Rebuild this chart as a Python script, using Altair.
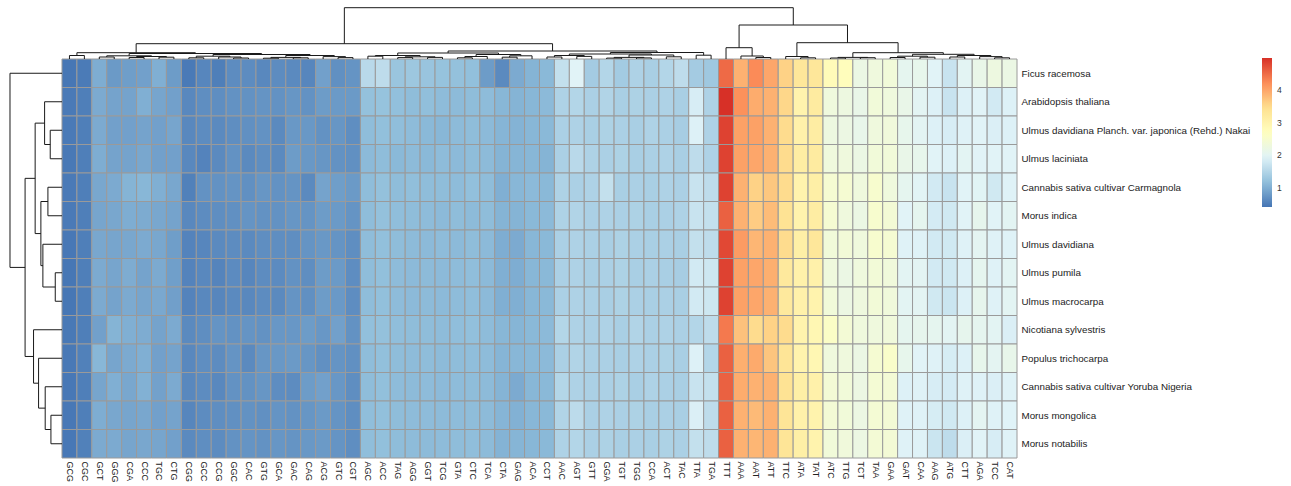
import json
import altair as alt
import pandas as pd

codons = ["GCG","CGC","GCT","GGG","CGA","CCC","TGC","CTG","CGG","GCC","CCG","GGC","CAC","GTG","GCA","GAC","CAG","ACG","GTC","CGT",
          "AGC","ACC","TAG","AGG","GGT","TCG","GTA","CTC","TCA","CTA","GAG","ACA","CCT",
          "AAC","AGT","GTT","GGA","TGT","TGG","CCA","ACT","TAC","TTA","TGA",
          "TTT","AAA","AAT","ATT","TTC","ATA","TAT","ATC","TTG","TCT","TAA","GAA","GAT","CAA","AAG","ATG","CTT","AGA","TCC","CAT"]

species = ["Ficus racemosa", "Arabidopsis thaliana", "Ulmus davidiana Planch. var. japonica (Rehd.) Nakai",
           "Ulmus laciniata", "Cannabis sativa cultivar Carmagnola", "Morus indica", "Ulmus davidiana",
           "Ulmus pumila", "Ulmus macrocarpa", "Nicotiana sylvestris", "Populus trichocarpa",
           "Cannabis sativa cultivar Yoruba Nigeria", "Morus mongolica", "Morus notabilis"]

ficus = [0.42,0.46,0.98,0.78,0.82,0.85,1.00,0.80,0.45,0.58,0.50,0.64,0.64,0.60,0.64,0.62,0.58,0.85,0.68,0.72,
         1.55,1.60,1.25,1.28,1.24,1.22,1.20,1.18,0.80,0.62,0.95,1.05,1.10,
         1.65,1.95,1.35,1.50,1.34,1.45,1.40,1.50,1.60,1.35,1.30,
         4.52,3.90,4.25,4.00,3.60,3.30,3.30,2.80,2.75,2.20,2.30,2.35,2.05,2.10,1.95,1.70,2.00,2.15,2.25,2.20]
arabidopsis = [0.45,0.50,0.95,0.88,0.88,1.00,0.90,0.85,0.60,0.66,0.66,0.70,0.70,0.72,0.70,0.74,0.70,0.80,0.78,0.78,
               1.20,1.22,1.18,1.15,1.17,1.14,1.13,1.15,1.14,1.08,1.05,1.08,1.12,
               1.45,1.50,1.42,1.48,1.40,1.44,1.42,1.45,1.40,1.85,1.45,
               5.00,4.20,3.95,3.90,3.55,3.00,3.20,2.30,2.25,2.15,2.35,2.30,2.15,2.00,1.90,1.70,1.90,1.95,1.80,1.90]
ulmus_dav_jap = [0.45,0.50,0.95,0.85,0.85,0.88,0.85,0.90,0.60,0.64,0.62,0.66,0.68,0.70,0.62,0.76,0.76,0.70,0.74,0.66,
                 1.15,1.18,1.16,1.14,1.10,1.08,1.13,1.15,1.12,1.06,1.04,1.08,1.10,
                 1.42,1.45,1.40,1.44,1.42,1.40,1.45,1.42,1.38,1.90,1.45,
                 4.85,4.05,4.05,3.90,3.50,3.05,3.15,2.25,2.22,2.12,2.30,2.32,2.10,2.00,1.90,1.85,1.92,1.95,1.88,1.90]
ulmus_lac = [0.44,0.50,0.98,0.88,0.88,0.92,0.85,0.85,0.60,0.55,0.62,0.70,0.62,0.66,0.62,0.80,0.76,0.74,0.70,0.68,
             1.12,1.15,1.10,1.13,1.10,1.14,1.12,1.15,1.13,1.05,1.06,1.08,1.05,
             1.42,1.55,1.45,1.42,1.44,1.40,1.42,1.45,1.40,1.60,1.45,
             4.85,4.05,4.00,3.90,3.50,3.15,3.20,2.30,2.30,2.20,2.35,2.35,2.15,2.10,1.95,1.90,2.00,1.95,1.95,1.95]
cannabis_car = [0.45,0.50,0.92,0.95,1.05,1.08,1.00,0.92,0.52,0.70,0.70,0.72,0.68,0.74,0.70,0.72,0.62,0.88,0.82,0.78,
                1.15,1.20,1.15,1.17,1.15,1.15,1.14,1.18,1.15,1.00,1.08,1.12,1.10,
                1.45,1.42,1.45,1.65,1.40,1.42,1.40,1.45,1.42,1.70,1.60,
                4.85,3.90,3.60,3.70,3.50,3.00,3.10,2.45,2.45,2.30,2.50,2.30,2.05,1.98,1.80,1.70,1.95,1.97,1.78,1.92]
morus_ind = [0.45,0.50,0.90,0.92,0.98,0.96,0.92,0.88,0.60,0.64,0.66,0.68,0.72,0.70,0.70,0.74,0.72,0.80,0.78,0.72,
             1.15,1.20,1.16,1.15,1.14,1.12,1.15,1.13,1.15,1.05,1.05,1.10,1.12,
             1.45,1.48,1.42,1.45,1.42,1.44,1.40,1.42,1.45,1.70,1.65,
             4.60,3.90,3.65,3.80,3.40,3.00,3.15,2.45,2.30,2.20,2.50,2.40,1.95,2.05,1.82,1.78,1.95,2.08,1.95,2.00]
ulmus_dav = [0.43,0.50,0.92,0.90,0.92,0.95,0.92,0.82,0.55,0.58,0.62,0.64,0.62,0.66,0.66,0.66,0.72,0.76,0.72,0.66,
             1.15,1.18,1.15,1.13,1.12,1.14,1.12,1.15,1.12,0.98,0.95,1.08,1.10,
             1.42,1.45,1.42,1.40,1.44,1.42,1.40,1.42,1.40,1.65,1.60,
             4.80,4.10,3.85,3.90,3.50,3.10,3.30,2.35,2.38,2.30,2.50,2.45,1.92,1.92,1.80,1.78,1.92,2.02,1.92,1.92]
ulmus_pum = [0.42,0.50,0.95,0.90,0.97,0.88,0.95,0.83,0.55,0.60,0.56,0.63,0.58,0.64,0.63,0.70,0.66,0.80,0.78,0.65,
             1.15,1.18,1.14,1.12,1.13,1.12,1.14,1.16,1.12,1.00,0.98,1.08,1.10,
             1.42,1.45,1.40,1.42,1.44,1.40,1.42,1.40,1.38,1.80,1.75,
             4.85,4.05,4.00,3.92,3.25,3.05,3.05,2.30,2.20,2.30,2.38,2.32,2.00,2.00,1.80,1.78,1.90,2.05,1.92,2.00]
ulmus_mac = [0.42,0.50,0.95,0.88,0.95,0.90,0.93,0.84,0.55,0.60,0.58,0.62,0.60,0.64,0.62,0.72,0.68,0.80,0.77,0.65,
             1.15,1.18,1.14,1.12,1.13,1.12,1.14,1.16,1.12,1.00,1.00,1.08,1.10,
             1.42,1.45,1.42,1.40,1.44,1.42,1.40,1.42,1.40,1.80,1.75,
             4.85,4.05,4.00,3.90,3.25,3.05,3.00,2.35,2.22,2.28,2.38,2.32,2.00,2.00,1.78,1.72,1.90,2.08,1.92,2.00]
nicotiana = [0.44,0.50,0.85,1.05,1.00,0.97,0.88,0.95,0.62,0.66,0.72,0.70,0.72,0.70,0.75,0.75,0.80,0.75,0.85,0.70,
             1.18,1.20,1.16,1.15,1.15,1.14,1.16,1.18,1.14,1.08,1.06,1.10,1.12,
             1.50,1.45,1.42,1.45,1.40,1.48,1.42,1.45,1.42,1.50,1.60,
             4.40,3.75,3.50,3.60,3.50,3.00,2.90,2.60,2.40,2.30,2.30,2.32,2.05,2.08,2.05,2.00,2.08,2.06,2.00,1.88]
populus = [0.44,0.52,1.08,0.90,0.95,1.00,0.85,0.88,0.60,0.66,0.64,0.72,0.62,0.74,0.76,0.78,0.74,0.68,0.72,0.68,
           1.15,1.18,1.15,1.14,1.15,1.13,1.15,1.16,1.14,1.06,1.08,1.10,1.12,
           1.42,1.48,1.42,1.42,1.40,1.45,1.42,1.44,1.40,1.90,1.50,
           4.60,3.92,3.97,3.72,3.35,3.00,2.90,2.30,2.30,2.20,2.45,2.55,2.10,1.95,1.92,1.84,1.90,2.10,2.02,2.12]
cannabis_yor = [0.43,0.50,0.90,1.00,0.92,1.02,0.86,0.95,0.60,0.64,0.60,0.70,0.70,0.74,0.65,0.64,0.80,0.85,0.75,0.66,
                1.15,1.18,1.14,1.13,1.14,1.12,1.14,1.15,1.13,1.05,0.95,1.08,1.10,
                1.50,1.45,1.42,1.42,1.44,1.40,1.45,1.42,1.40,1.70,1.65,
                4.60,3.95,3.90,3.90,3.40,3.10,3.05,2.40,2.35,2.22,2.42,2.40,1.90,1.92,1.85,1.82,1.92,1.92,1.88,1.92]
morus_mon = [0.43,0.50,0.98,0.92,0.90,0.92,0.85,0.88,0.58,0.64,0.66,0.68,0.70,0.68,0.72,0.70,0.74,0.78,0.72,0.66,
             1.16,1.18,1.15,1.14,1.14,1.13,1.14,1.15,1.13,1.06,1.02,1.08,1.10,
             1.48,1.58,1.42,1.45,1.42,1.44,1.40,1.42,1.40,1.88,1.60,
             4.60,3.90,3.82,3.90,3.35,3.05,3.00,2.40,2.35,2.22,2.42,2.40,1.92,1.92,1.84,1.78,1.90,2.02,1.92,1.94]
morus_not = [0.43,0.52,0.95,0.95,0.90,0.92,0.90,0.85,0.62,0.66,0.64,0.70,0.72,0.70,0.74,0.72,0.76,0.78,0.72,0.66,
             1.16,1.18,1.15,1.14,1.13,1.14,1.15,1.16,1.13,1.04,1.06,1.08,1.10,
             1.45,1.50,1.42,1.44,1.40,1.42,1.40,1.44,1.42,1.65,1.60,
             4.60,3.90,3.85,3.90,3.35,3.10,3.00,2.35,2.32,2.22,2.40,2.40,1.92,1.92,1.72,1.60,1.88,1.95,1.85,1.92]

values = [ficus, arabidopsis, ulmus_dav_jap, ulmus_lac, cannabis_car, morus_ind, ulmus_dav,
          ulmus_pum, ulmus_mac, nicotiana, populus, cannabis_yor, morus_mon, morus_not]

# dendrograms: [height, left, right]; leaves are display positions
row_tree = [51.7, 0, [36.7, [26.7, [17.3, 1, [11.7, 2, 3]], [21.0, [14.0, 4, 5], [19.0, 6, [6.7, 7, 8]]]],
                       [28.3, 9, [23.3, 10, [16.7, 11, [11.0, 12, 13]]]]]]

col_LL = [6.3, [3.5, 0, 1],
          [5.5, [3.2, [2.0, 2, 3], [2.5, [1.5, 4, 5], [1.8, 6, 7]]],
                [4.5, [2.8, [1.2, 8, 9], [2.0, 10, [1.0, 11, 12]]],
                      [3.5, [1.6, [0.8, 13, 14], [1.2, 15, 16]], [2.4, 17, [1.4, 18, 19]]]]]]
col_LR = [8.0,
          [6.0, [3.5, [2.8, 20, 21], [2.2, [1.4, 22, 23], [1.6, 24, 25]]],
                [4.5, [2.5, [1.2, 26, 27], 28], [3.2, [1.8, 29, 30], 31]]],
          [6.5, [5.0, [3.5, [2.0, 32, 33], [2.6, 34, 35]],
                      [4.0, [1.6, [0.9, 36, 37], [1.1, 38, 39]], [2.2, 40, 41]]],
                [3.8, 42, 43]]]
col_R = [34.0, [11.3, 44, [3.0, 45, [1.5, 46, 47]]],
         [16.3, [2.5, 48, [1.2, 49, 50]],
                [6.3, [1.6, [1.0, 51, 52], [1.3, 53, 54]],
                      [4.7, [2.8, [1.5, 55, 56], [1.8, 57, 58]],
                            [3.5, [2.0, 59, 60], [2.4, 61, [1.2, 62, 63]]]]]]]
col_tree = [51.3, [15.3, col_LL, col_LR], col_R]

color_stops = [0.4, 1.1667, 1.9333, 2.7, 3.4667, 4.2333, 5.0]
color_range = ["#4575B4", "#91BFDB", "#E0F3F8", "#FFFFBF", "#FEE090", "#FC8D59", "#D73027"]
legend_ticks = [1, 2, 3, 4]

for r in values:
    assert len(r) == len(codons)

# ---- layout (pixels) ----
LEFT, TOP = 62.0, 59.0
CW, CH = 14.922, 28.5
NC, NR = len(codons), len(species)
W = int(round(LEFT + NC * CW))
H = int(round(TOP + NR * CH))
ROW_TREE_PX = 52.0
COL_TREE_PX = 51.3

cells = []
for i, sp in enumerate(species):
    for j, cd in enumerate(codons):
        cells.append({"x": j, "x2": j + 1, "y": i, "y2": i + 1, "v": values[i][j],
                      "species": sp, "codon": cd})
cells = pd.DataFrame(cells)


def segments(tree):
    out = []

    def walk(node):
        if isinstance(node, int):
            return node + 0.5, 0.0
        h, l, r = node
        lx, lh = walk(l)
        rx, rh = walk(r)
        out.append((lx, lh, lx, h))
        out.append((rx, rh, rx, h))
        out.append((lx, h, rx, h))
        return (lx + rx) / 2, h

    walk(tree)
    return out


rk = (ROW_TREE_PX / CW) / row_tree[0]
row_segs = pd.DataFrame([{"y": a, "x": -b * rk, "y2": c, "x2": -d * rk}
                         for a, b, c, d in segments(row_tree)])
ck = (COL_TREE_PX / CH) / col_tree[0]
col_segs = pd.DataFrame([{"x": a, "y": -b * ck, "x2": c, "y2": -d * ck}
                         for a, b, c, d in segments(col_tree)])

xscale = alt.Scale(domain=[-LEFT / CW, NC], nice=False, zero=False)
yscale = alt.Scale(domain=[-TOP / CH, NR], nice=False, zero=False, reverse=True)

xaxis = alt.Axis(values=[j + 0.5 for j in range(NC)],
                 labelExpr=json.dumps(codons) + "[floor(datum.value)]",
                 labelAngle=90, labelAlign="left", labelBaseline="middle",
                 labelPadding=3, ticks=False, domain=False, grid=False, title=None,
                 labelFontSize=9, labelFlush=False, labelOverlap=False, labelColor="#222222",
                 labelFont="Liberation Sans")
yaxis = alt.Axis(orient="right", values=[i + 0.5 for i in range(NR)],
                 labelExpr=json.dumps(species) + "[floor(datum.value)]",
                 labelPadding=4, ticks=False, domain=False, grid=False, title=None,
                 labelFontSize=9.8, labelBaseline="middle", labelFlush=False, labelOverlap=False,
                 labelLimit=400, labelColor="#222222", labelFont="Liberation Sans")

heat = alt.Chart(cells).mark_rect(stroke="#9a9a9a", strokeWidth=1).encode(
    x=alt.X("x:Q", scale=xscale, axis=xaxis),
    x2="x2:Q",
    y=alt.Y("y:Q", scale=yscale, axis=yaxis),
    y2="y2:Q",
    color=alt.Color("v:Q",
                    scale=alt.Scale(domain=color_stops, range=color_range, interpolate="rgb"),
                    legend=alt.Legend(title=None, orient="none", legendX=1262, legendY=58,
                                      direction="vertical", gradientLength=149,
                                      gradientThickness=10, values=legend_ticks,
                                      labelFontSize=8.5, labelColor="#333333",
                                      labelFont="Liberation Sans", labelOffset=5,
                                      gradientStrokeWidth=0)),
)

rows_dendro = alt.Chart(row_segs).mark_rule(color="#1a1a1a", strokeWidth=1).encode(
    x=alt.X("x:Q", scale=xscale, axis=xaxis), x2="x2:Q",
    y=alt.Y("y:Q", scale=yscale, axis=yaxis), y2="y2:Q",
)
cols_dendro = alt.Chart(col_segs).mark_rule(color="#1a1a1a", strokeWidth=1).encode(
    x=alt.X("x:Q", scale=xscale, axis=xaxis), x2="x2:Q",
    y=alt.Y("y:Q", scale=yscale, axis=yaxis), y2="y2:Q",
)

chart = alt.layer(heat, rows_dendro, cols_dendro).properties(
    width=W, height=H,
    background="white",
    padding={"left": 0, "top": 0, "right": 1291 - W, "bottom": 486 - H},
    autosize=alt.AutoSizeParams(type="none"),
).configure_view(strokeWidth=0, stroke=None)

chart.save("out.html", embed_options={"renderer": "svg", "actions": False})
